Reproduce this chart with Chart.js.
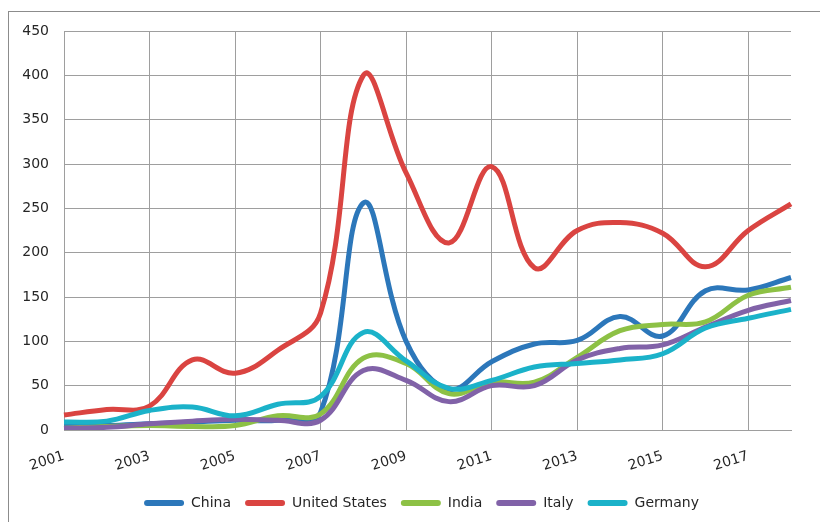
<!DOCTYPE html>
<html>
<head>
<meta charset="utf-8">
<script src="https://cdn.jsdelivr.net/npm/chart.js@4/dist/chart.umd.min.js"></script>
<style>
  html, body { margin: 0; padding: 0; background: #fff; overflow: hidden; }
  #frame { position: absolute; left: 8px; top: 11px; width: 900px; height: 600px; border: 1px solid #8c8c8c; }
  #chart { position: absolute; left: 0; top: 0; }
</style>
</head>
<body>
<div id="frame"></div>
<canvas id="chart" width="820" height="522"></canvas>
<script>
const years = ['2001', '2002', '2003', '2004', '2005', '2006', '2007', '2008', '2009',
    '2010', '2011', '2012', '2013', '2014', '2015', '2016', '2017', '2018'];

const data_China = [5, 5, 7, 9, 11, 11, 20, 256, 100, 46, 77, 97, 101, 128, 106, 157, 158, 172];
const data_US = [17, 23, 27, 79, 64, 90, 132, 400, 290, 211, 297, 183, 225, 234, 222, 184, 225, 255];
const data_India = [2, 4, 5, 4, 5, 16, 18, 81, 75, 41, 54, 54, 82, 112, 119, 122, 152, 161];
const data_Italy = [2, 3, 7, 10, 12, 11, 11, 67, 56, 32, 50, 50, 79, 92, 96, 116, 135, 146];
const data_Germany = [9, 10, 22, 26, 16, 29, 38, 110, 78, 47, 56, 71, 75, 79, 86, 115, 126, 136];

const gridColor = '#9e9e9e';
const textColor = '#262626';
const font = { family: 'DejaVu Sans', size: 14 };

function series(label, data, color, order) {
    return {
        label: label,
        data: data,
        borderColor: color,
        backgroundColor: color,
        borderWidth: 5,
        tension: 0.4,
        pointRadius: 0,
        fill: false,
        order: order,
    };
}

// the original legend sits a little right of the plot centre
const legendShift = {
    id: 'legendShift',
    afterLayout(chart) {
        chart.legend.left += 22;
        chart.legend.right += 22;
    }
};

const lineChart = new Chart(document.getElementById('chart'), {
    type: 'line',
    data: {
        labels: years,
        datasets: [
            series('China', data_China, '#2C77BA', 4),
            series('United States', data_US, '#DA4441', 3),
            series('India', data_India, '#8DC145', 2),
            series('Italy', data_Italy, '#8162A8', 1),
            series('Germany', data_Germany, '#1BB2C9', 0),
        ]
    },
    plugins: [legendShift],
    options: {
        responsive: false,
        animation: false,
        layout: {
            padding: { left: 8, top: 31, right: 29, bottom: 2 }
        },
        scales: {
            x: {
                grid: {
                    // only every other year gets a gridline
                    color: (ctx) => (ctx.index % 2 === 0 && ctx.index < years.length - 1) ? gridColor : 'transparent',
                    drawTicks: false,
                },
                border: { color: gridColor },
                ticks: {
                    autoSkip: false,
                    minRotation: 17,
                    maxRotation: 17,
                    padding: 18,
                    color: textColor,
                    font: font,
                    callback: (value, index) => index % 2 === 0 ? years[index] : '',
                },
                afterFit: (scale) => { scale.height = 52; },
            },
            y: {
                min: 0,
                max: 450,
                grid: { color: gridColor, drawTicks: false },
                border: { color: gridColor },
                ticks: {
                    stepSize: 50,
                    padding: 15,
                    color: textColor,
                    font: font,
                },
                afterFit: (scale) => { scale.width = 56; },
            }
        },
        plugins: {
            legend: {
                position: 'bottom',
                labels: {
                    boxWidth: 40,
                    boxHeight: 6,
                    padding: 14,
                    color: textColor,
                    font: font,
                    useBorderRadius: true,
                    borderRadius: 3,
                    sort: (a, b) => a.datasetIndex - b.datasetIndex,
                    generateLabels: (chart) => Chart.defaults.plugins.legend.labels.generateLabels(chart)
                        .map(item => Object.assign(item, { lineWidth: 0 })),
                }
            },
            tooltip: { enabled: false }
        }
    }
});
</script>
</body>
</html>
